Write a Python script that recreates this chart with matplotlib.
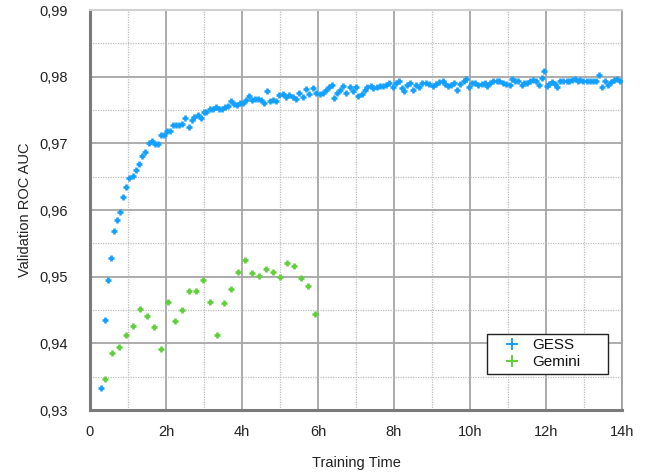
import matplotlib
matplotlib.use("Agg")
import matplotlib.pyplot as plt
from matplotlib.ticker import FixedLocator, FuncFormatter

plt.rcParams["font.family"] = ["Liberation Sans", "DejaVu Sans"]

# GESS validation curve (hours, ROC AUC)
gess_hours = [
    0.30, 0.39, 0.47, 0.55, 0.63, 0.71, 0.78, 0.88, 0.96, 1.03,
    1.12, 1.21, 1.29, 1.37, 1.46, 1.55, 1.63, 1.71, 1.79, 1.87,
    1.95, 2.03, 2.11, 2.18, 2.26, 2.34, 2.43, 2.51, 2.60, 2.68,
    2.75, 2.83, 2.91, 2.99, 3.06, 3.15, 3.23, 3.32, 3.40, 3.47,
    3.55, 3.63, 3.71, 3.79, 3.87, 3.95, 4.03, 4.11, 4.18, 4.26,
    4.34, 4.42, 4.50, 4.58, 4.67, 4.74, 4.81, 4.90, 4.98, 5.07,
    5.16, 5.25, 5.33, 5.42, 5.51, 5.60, 5.68, 5.77, 5.86, 5.95,
    6.04, 6.12, 6.21, 6.30, 6.36, 6.42, 6.51, 6.58, 6.65, 6.74,
    6.83, 6.91, 7.00, 7.06, 7.15, 7.24, 7.30, 7.39, 7.46, 7.54,
    7.63, 7.72, 7.79, 7.88, 7.97, 8.05, 8.12, 8.21, 8.26, 8.33,
    8.42, 8.51, 8.58, 8.67, 8.75, 8.84, 8.93, 9.02, 9.11, 9.19,
    9.28, 9.35, 9.43, 9.49, 9.58, 9.67, 9.74, 9.83, 9.90, 9.98,
    10.04, 10.13, 10.22, 10.31, 10.40, 10.46, 10.53, 10.61, 10.70, 10.77,
    10.86, 10.95, 11.04, 11.10, 11.18, 11.27, 11.36, 11.42, 11.51, 11.58,
    11.67, 11.74, 11.81, 11.89, 11.95, 12.02, 12.09, 12.16, 12.24, 12.30,
    12.37, 12.46, 12.54, 12.61, 12.68, 12.76, 12.83, 12.90, 12.98, 13.07,
    13.16, 13.25, 13.32, 13.39, 13.47, 13.54, 13.64, 13.71, 13.79, 13.86,
    13.95,
]
gess_auc = [
    0.9333, 0.9435, 0.9495, 0.9528, 0.9568, 0.9585, 0.9597, 0.9619, 0.9635, 0.9648,
    0.9651, 0.9660, 0.9669, 0.9681, 0.9687, 0.9700, 0.9703, 0.9699, 0.9699, 0.9712,
    0.9713, 0.9719, 0.9718, 0.9728, 0.9728, 0.9728, 0.9729, 0.9738, 0.9725, 0.9735,
    0.9740, 0.9742, 0.9738, 0.9747, 0.9747, 0.9751, 0.9752, 0.9754, 0.9751, 0.9752,
    0.9755, 0.9756, 0.9763, 0.9759, 0.9758, 0.9761, 0.9760, 0.9765, 0.9771, 0.9765,
    0.9767, 0.9767, 0.9765, 0.9760, 0.9778, 0.9763, 0.9765, 0.9763, 0.9773, 0.9774,
    0.9770, 0.9773, 0.9770, 0.9766, 0.9775, 0.9769, 0.9781, 0.9774, 0.9783, 0.9775,
    0.9774, 0.9776, 0.9780, 0.9785, 0.9788, 0.9768, 0.9776, 0.9780, 0.9786, 0.9776,
    0.9784, 0.9779, 0.9784, 0.9771, 0.9774, 0.9780, 0.9784, 0.9786, 0.9783, 0.9785,
    0.9786, 0.9786, 0.9788, 0.9791, 0.9784, 0.9790, 0.9794, 0.9783, 0.9779, 0.9788,
    0.9791, 0.9780, 0.9788, 0.9785, 0.9790, 0.9790, 0.9789, 0.9786, 0.9789, 0.9792,
    0.9794, 0.9789, 0.9786, 0.9788, 0.9791, 0.9780, 0.9789, 0.9794, 0.9796, 0.9785,
    0.9791, 0.9790, 0.9788, 0.9789, 0.9791, 0.9786, 0.9790, 0.9793, 0.9794, 0.9793,
    0.9791, 0.9789, 0.9788, 0.9796, 0.9793, 0.9794, 0.9787, 0.9790, 0.9791, 0.9794,
    0.9795, 0.9793, 0.9788, 0.9798, 0.9809, 0.9786, 0.9789, 0.9792, 0.9789, 0.9784,
    0.9794, 0.9794, 0.9794, 0.9794, 0.9795, 0.9797, 0.9794, 0.9795, 0.9794, 0.9794,
    0.9794, 0.9794, 0.9794, 0.9802, 0.9785, 0.9794, 0.9788, 0.9792, 0.9795, 0.9797,
    0.9793,
]

# Gemini validation curve
gemini_hours = [
    0.39, 0.57, 0.76, 0.95, 1.13, 1.32, 1.50, 1.68, 1.87, 2.05,
    2.24, 2.42, 2.61, 2.79, 2.97, 3.16, 3.34, 3.53, 3.71, 3.89,
    4.08, 4.26, 4.45, 4.63, 4.82, 5.00, 5.18, 5.37, 5.55, 5.74,
    5.92,
]
gemini_auc = [
    0.9346, 0.9385, 0.9395, 0.9413, 0.9426, 0.9451, 0.9441, 0.9425, 0.9392, 0.9462,
    0.9433, 0.9450, 0.9479, 0.9479, 0.9495, 0.9462, 0.9413, 0.9460, 0.9482, 0.9507,
    0.9525, 0.9505, 0.9501, 0.9512, 0.9507, 0.9500, 0.9520, 0.9516, 0.9498, 0.9486,
    0.9444,
]

x_ticks = [0, 2, 4, 6, 8, 10, 12, 14]
x_labels = ["0", "2h", "4h", "6h", "8h", "10h", "12h", "14h"]
y_ticks = [0.93, 0.94, 0.95, 0.96, 0.97, 0.98, 0.99]

fig = plt.figure(figsize=(6.49, 4.75), dpi=100)
ax = fig.add_axes([90 / 649, 65 / 475, 532 / 649, 400 / 475])

ax.plot(gess_hours, gess_auc, linestyle="none", marker="+", markersize=5,
        markeredgewidth=1.9, color="#14a0ff", label="GESS", zorder=3)
ax.plot(gemini_hours, gemini_auc, linestyle="none", marker="+", markersize=5,
        markeredgewidth=1.9, color="#5fcf3a", label="Gemini", zorder=3)

ax.set_xlim(0, 14)
ax.set_ylim(0.93, 0.99)
ax.xaxis.set_major_locator(FixedLocator(x_ticks))
ax.set_xticklabels(x_labels)
ax.xaxis.set_minor_locator(FixedLocator([1, 3, 5, 7, 9, 11, 13]))
ax.yaxis.set_major_locator(FixedLocator(y_ticks))
ax.yaxis.set_minor_locator(FixedLocator([0.935, 0.945, 0.955, 0.965, 0.975, 0.985]))
ax.yaxis.set_major_formatter(FuncFormatter(lambda v, p: f"{v:.2f}".replace(".", ",")))

ax.grid(which="major", color="#a6a6a6", linewidth=1.3, linestyle="-", zorder=0)
ax.grid(which="minor", color="#bdbdbd", linewidth=0.9, linestyle=(0, (1, 1)), zorder=0)
ax.set_axisbelow(True)
ax.tick_params(which="both", length=0, labelsize=10.5, colors="#222222")
ax.tick_params(axis="y", pad=16)
ax.tick_params(axis="x", pad=11)

for side in ["left", "bottom"]:
    ax.spines[side].set_color("#7a7a7a")
    ax.spines[side].set_linewidth(2.2)
ax.spines["top"].set_color("#d0d0d0")
ax.spines["top"].set_linewidth(1.5)
ax.spines["right"].set_color("#a0a0a0")
ax.spines["right"].set_linewidth(1.3)

ax.set_xlabel("Training Time", fontsize=10.5, color="#222222", labelpad=12)
ax.set_ylabel("Validation ROC AUC", fontsize=10.5, color="#222222", labelpad=5)

# legend box spans roughly x 487-608, y 332-374 px
leg = ax.legend(loc="lower left", bbox_to_anchor=(0.746, 0.09, 0.227, 0.105),
                mode="expand", borderaxespad=0, fancybox=False, framealpha=1,
                edgecolor="#222222", fontsize=11, handlelength=2.7,
                handletextpad=0.0, borderpad=0.3, labelspacing=0.2)
leg.get_frame().set_linewidth(1.0)
for h in leg.legend_handles:
    h.set_markersize(8)
    h.set_markeredgewidth(1.4)
for txt in leg.get_texts():
    txt.set_color("#111111")

fig.savefig("out.png", dpi=100)
